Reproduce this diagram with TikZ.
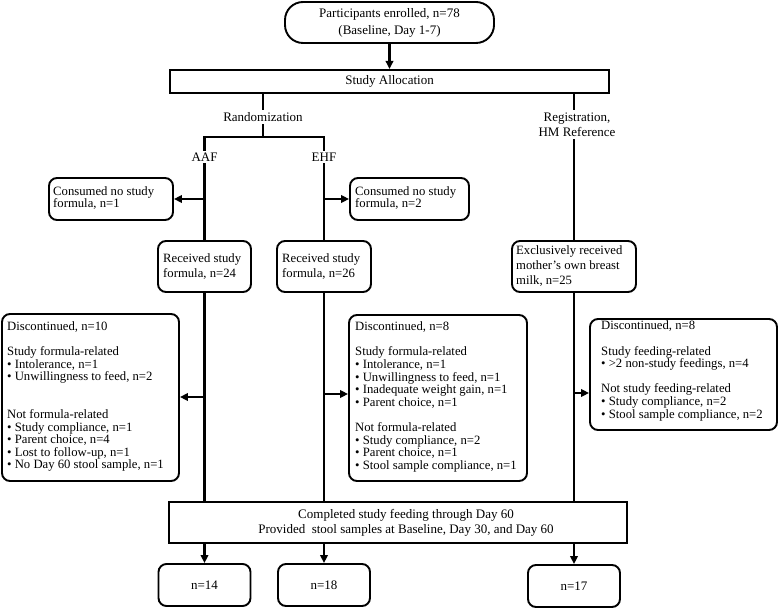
\documentclass[tikz,border=0pt]{standalone}
\usepackage{fontspec}
\setmainfont{Liberation Serif}
\usetikzlibrary{arrows.meta,calc}
\begin{document}
\begin{tikzpicture}[x=1pt,y=-1pt,
  every node/.style={font=\fontsize{12.7}{12.6}\selectfont},
  rbox/.style={draw, line width=1.9pt, rounded corners=8pt, inner sep=0pt},
  sbox/.style={draw, line width=2.1pt, inner sep=0pt},
  txt/.style={inner sep=0pt, align=left, anchor=west},
  lbl/.style={inner sep=2.5pt, align=center, font=\fontsize{13}{15}\selectfont},
  ln/.style={line width=2.1pt},
  arr/.style={line width=2.1pt, -{Triangle[length=8pt,width=7.5pt]}},
]
\useasboundingbox (0,0) rectangle (778,609);

% top
\node[rbox, rounded corners=18pt, minimum width=209pt, minimum height=41pt, align=center, font=\fontsize{13}{15}\selectfont] (enroll) at (389.5,22.5)
  {Participants enrolled, n=78\\[2pt](Baseline, Day 1-7)};
\node[sbox, minimum width=439pt, minimum height=23pt, font=\fontsize{13}{15}\selectfont] (alloc) at (389.5,81.5) {Study Allocation};
\draw[arr] (enroll.south) -- (alloc.north);

% labels
\node[lbl] (rand) at (263,117) {Randomization};
\node[lbl] (reg) at (577,124.5) {Registration,\\HM Reference};
\coordinate (barL) at (204.5,137);
\coordinate (barR) at (324,137);
\node[lbl, inner sep=2pt] (aaf) at (204.5,157) {AAF};
\node[lbl, inner sep=2pt] (ehf) at (324,157) {EHF};

\draw[ln] (alloc.south -| rand.north) -- (rand.north);
\draw[ln] (rand.south) -- (rand.south |- barL);
\draw[ln] ([xshift=-1.05pt]barL) -- ([xshift=1.05pt]barR);
\draw[ln] (barL) -- (aaf.north);
\draw[ln] (barR) -- (ehf.north);

% consumed boxes
\node[rbox, minimum width=124pt, minimum height=42pt] (cons1) at (111,199) {};
\node[txt] (cons1t) at (53,198) {Consumed no study\\formula, n=1};
\node[rbox, minimum width=119pt, minimum height=42pt] (cons2) at (409.5,199) {};
\node[txt] (cons2t) at (355,198) {Consumed no study\\formula, n=2};

% received
\node[rbox, minimum width=93pt, minimum height=51pt] (rec1) at (204.5,266.5) {};
\node[txt] (rec1t) at (163,266.5) {Received study\\[2.4pt]formula, n=24};
\node[rbox, minimum width=94pt, minimum height=51pt] (rec2) at (324,266.5) {};
\node[txt] (rec2t) at (282,266.5) {Received study\\[2.4pt]formula, n=26};
\node[rbox, minimum width=124pt, minimum height=51pt] (excl) at (574,266.5) {};
\node[txt] (exclt) at (516,266.5) {Exclusively received\\[2.4pt]mother’s own breast\\[2.4pt]milk, n=25};

\draw[ln] (alloc.south -| excl.north) -- (reg.north -| excl.north);
\draw[ln] (reg.south -| excl.north) -- (excl.north);
\draw[ln] (aaf.south) -- (rec1.north);
\draw[ln] (ehf.south) -- (rec2.north);
\draw[arr] (cons1.east -| rec1.north) -- (cons1.east);
\draw[arr] (cons2.west -| rec2.north) -- (cons2.west);

% discontinued
\node[rbox, minimum width=177pt, minimum height=167pt] (disc1) at (90.5,397.5) {};
\node[txt] (disc1t) at (7,396.5) {Discontinued, n=10\\[12.6pt]
Study formula-related\\
• Intolerance, n=1\\
• Unwillingness to feed, n=2\\[25.2pt]
Not formula-related\\
• Study compliance, n=1\\
• Parent choice, n=4\\
• Lost to follow-up, n=1\\
• No Day 60 stool sample, n=1};

\node[rbox, minimum width=178pt, minimum height=166pt] (disc2) at (438,398) {};
\node[txt] (disc2t) at (355,397) {Discontinued, n=8\\[12.6pt]
Study formula-related\\
• Intolerance, n=1\\
• Unwillingness to feed, n=1\\
• Inadequate weight gain, n=1\\
• Parent choice, n=1\\[12.6pt]
Not formula-related\\
• Study compliance, n=2\\
• Parent choice, n=1\\
• Stool sample compliance, n=1};

\node[rbox, minimum width=187pt, minimum height=111pt] (disc3) at (683.5,374.5) {};
\node[txt] (disc3t) at (601,371) {Discontinued, n=8\\[12.6pt]
Study feeding-related\\
• >2 non-study feedings, n=4\\[12.6pt]
Not study feeding-related\\
• Study compliance, n=2\\
• Stool sample compliance, n=2};

% completed
\node[sbox, minimum width=458pt, minimum height=41pt] (comp) at (398,522.5) {};
\node[lbl, inner sep=0pt] (compt) at (406,522.5) {Completed study feeding through Day 60\\Provided\ \ stool samples at Baseline, Day 30, and Day 60};

\draw[ln] (rec1.south) -- (rec1.south |- comp.north);
\draw[ln] (rec2.south) -- (rec2.south |- comp.north);
\draw[ln] (excl.south) -- (excl.south |- comp.north);

\coordinate (j1) at (204.5,397);
\coordinate (j2) at (324,394);
\coordinate (j3) at (574,393);
\draw[arr] (j1) -- (j1 -| disc1.east);
\draw[arr] (j2) -- (j2 -| disc2.west);
\draw[arr] (j3) -- (j3 -| disc3.west);

% results
\node[rbox, minimum width=92pt, minimum height=42pt, font=\fontsize{13}{15}\selectfont] (n14) at (204.5,585) {n=14};
\node[rbox, minimum width=92pt, minimum height=42pt, font=\fontsize{13}{15}\selectfont] (n18) at (324,585) {n=18};
\node[rbox, minimum width=92pt, minimum height=42pt, font=\fontsize{13}{15}\selectfont] (n17) at (574,586) {n=17};
\draw[arr] (comp.south -| n14.north) -- (n14.north);
\draw[arr] (comp.south -| n18.north) -- (n18.north);
\draw[arr] (comp.south -| n17.north) -- (n17.north);
\end{tikzpicture}
\end{document}
